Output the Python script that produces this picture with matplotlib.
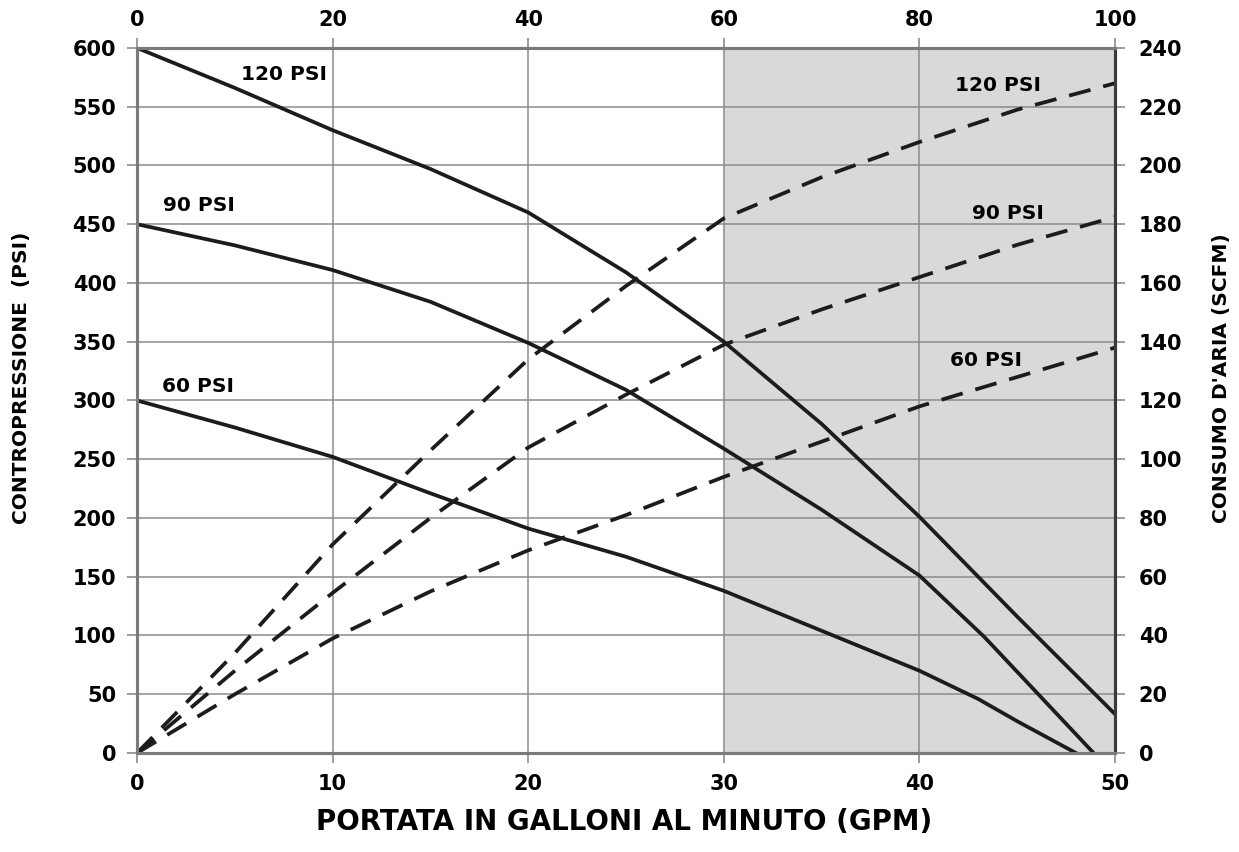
import matplotlib.pyplot as plt

plt.rcParams["font.family"] = ["DejaVu Sans"]
plt.rcParams["font.weight"] = "bold"

# back pressure curves (GPM -> PSI)
gpm = [0, 5, 10, 15, 20, 25, 30, 35, 40, 45, 50]
psi_120 = [600, 566, 530, 497, 460, 409, 350, 280, 201, 116, 33]
gpm_90 = [0, 5, 10, 15, 20, 25, 30, 35, 40, 43.3, 45, 48.9]
psi_90 = [450, 432, 411, 384, 349, 309, 259, 207, 151, 99, 69, 0]
gpm_60 = [0, 5, 10, 15, 20, 25, 30, 35, 40, 43, 45, 48.0]
psi_60 = [300, 277, 252, 221, 191, 167, 138, 104, 70, 46, 27, 0]

# air consumption curves (GPM -> SCFM)
scfm_120 = [0, 34, 71, 103, 134, 159, 182, 196, 208, 219, 228]
scfm_90 = [0, 28, 54.5, 80, 104, 122, 139, 151, 162, 173, 182.5]
scfm_60 = [0, 20, 39, 55, 69, 81, 94, 106, 118, 128, 138]

line_labels = ["120 PSI", "90 PSI", "60 PSI"]
left_label_pos = [(7.5, 577), (3.15, 466), (3.1, 312)]
right_label_pos = [(44.0, 568), (44.5, 459), (43.4, 334)]

ink = "#1c1c1c"
grey = "#8c8c8c"

fig = plt.figure(figsize=(12.39, 8.52), dpi=100)
ax = fig.add_axes([0.1106, 0.1162, 0.7894, 0.8275])
ax2 = ax.twinx()

ax.axvspan(30, 50, color="#dad9d8", zorder=0.2, lw=0)
ax.set_axisbelow(True)
ax.grid(True, color=grey, lw=1.1)

ax.plot(gpm, psi_120, color=ink, lw=2.7)
ax.plot(gpm_90, psi_90, color=ink, lw=2.7)
ax.plot(gpm_60, psi_60, color=ink, lw=2.7)

for s in (scfm_120, scfm_90, scfm_60):
    ax2.plot(gpm, s, color=ink, lw=2.7, dashes=(5.9, 3.5))

for lab, (x, y) in zip(line_labels, left_label_pos):
    ax.text(x, y, lab, ha="center", va="center", fontsize=14.5, color="black")
for lab, (x, y) in zip(line_labels, right_label_pos):
    ax.text(x, y, lab, ha="center", va="center", fontsize=14.5, color="black")

ax.set_xlim(0, 50)
ax.set_ylim(0, 600)
ax2.set_ylim(0, 240)
ax.set_xticks(range(0, 51, 10))
ax.set_yticks(range(0, 601, 50))
ax2.set_yticks(range(0, 241, 20))

top = ax.secondary_xaxis("top", functions=(lambda x: x * 2, lambda x: x / 2))
top.set_xticks(range(0, 101, 20))

for a in (ax, ax2):
    for side in ("left", "bottom", "top"):
        a.spines[side].set_color("#7a7a7a")
        a.spines[side].set_linewidth(2.2)
    a.spines["right"].set_color("#3a3a3a")
    a.spines["right"].set_linewidth(2.2)
top.spines["top"].set_visible(False)

ax.tick_params(axis="both", direction="out", length=7, width=1.2, color=grey,
               labelsize=15, pad=8)
ax2.tick_params(axis="y", direction="out", length=7, width=1.2, color=grey,
                labelsize=15, pad=10)
top.tick_params(axis="x", direction="out", length=7, width=1.2, color=grey,
                labelsize=15, pad=6)

fig.text(0.017, 0.557, "CONTROPRESSIONE  (PSI)", rotation=90, ha="center",
         va="center", fontsize=14.5)
fig.text(0.9855, 0.556, "CONSUMO D'ARIA (SCFM)", rotation=90, ha="center",
         va="center", fontsize=14.5)
fig.text(0.504, 0.035, "PORTATA IN GALLONI AL MINUTO (GPM)", ha="center",
         va="center", fontsize=20)

fig.savefig("out.png", dpi=100)
